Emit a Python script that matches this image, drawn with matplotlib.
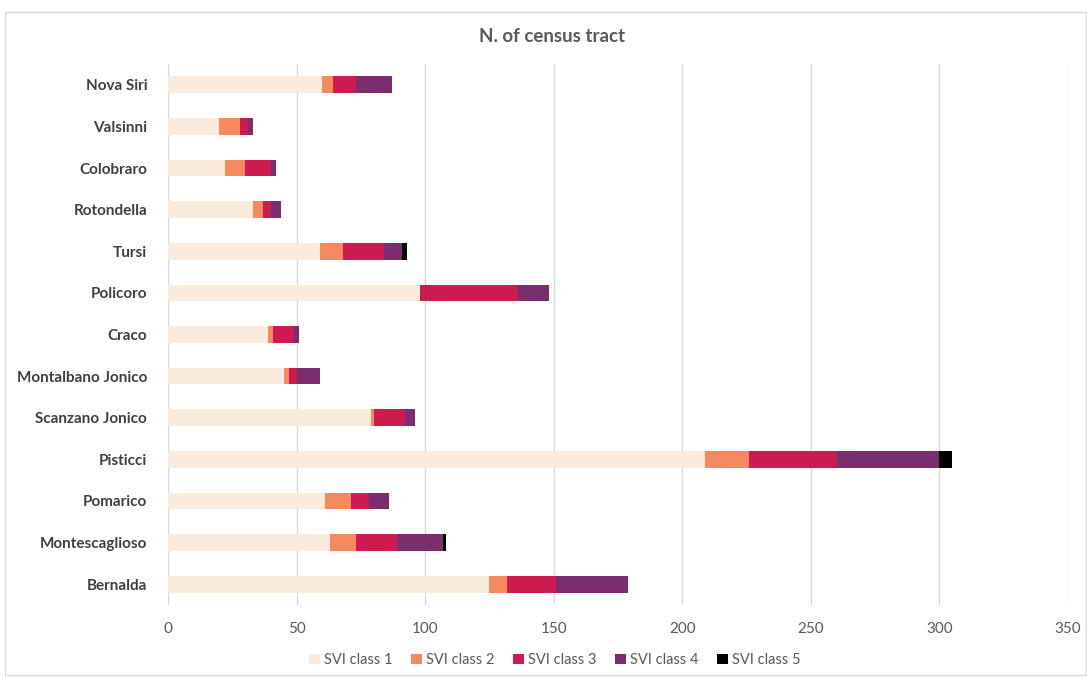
import matplotlib
matplotlib.use("Agg")
import matplotlib.pyplot as plt
from matplotlib.patches import Rectangle

plt.rcParams['font.family'] = ['Lato', 'DejaVu Sans']

categories = ["Nova Siri", "Valsinni", "Colobraro", "Rotondella", "Tursi", "Policoro",
              "Craco", "Montalbano Jonico", "Scanzano Jonico", "Pisticci", "Pomarico",
              "Montescaglioso", "Bernalda"]
svi1 = [60, 20, 22, 33, 59, 98, 39, 45, 79, 209, 61, 63, 125]
svi2 = [4, 8, 8, 4, 9, 0, 2, 2, 1, 17, 10, 10, 7]
svi3 = [9, 3, 10, 3, 16, 38, 8, 3, 12, 34, 7, 16, 19]
svi4 = [14, 2, 2, 4, 7, 12, 2, 9, 4, 40, 8, 18, 28]
svi5 = [0, 0, 0, 0, 2, 0, 0, 0, 0, 5, 0, 1, 0]
series_names = ["SVI class 1", "SVI class 2", "SVI class 3", "SVI class 4", "SVI class 5"]
xticks = [0, 50, 100, 150, 200, 250, 300, 350]

colors = ['#FBEBDD', '#F5895F', '#CC1B4F', '#7B2D6F', '#000000']

fig = plt.figure(figsize=(10.87, 6.77), dpi=100)
ax = fig.add_axes([168/1087, 1-605/677, 900/1087, (605-64)/677])

fig.patches.append(Rectangle((5/1087, 0.003), 1-6/1087, 1-12/677-0.003,
                             transform=fig.transFigure, fill=False,
                             edgecolor='#D9D9D9', linewidth=1.0))

y = list(range(len(categories)))
left = [0]*len(categories)
for vals, name, c in zip([svi1, svi2, svi3, svi4, svi5], series_names, colors):
    ax.barh(y, vals, left=left, height=0.4, color=c, label=name, zorder=3)
    left = [l+v for l, v in zip(left, vals)]

ax.set_ylim(len(categories)-0.5, -0.5)
ax.set_xlim(0, 350)
ax.set_xticks(xticks)
ax.set_yticks(y)
ax.set_yticklabels(categories, fontsize=11, fontweight='bold', color='#404040')
ax.tick_params(axis='x', labelsize=11, labelcolor='#595959', length=0, pad=12)
ax.tick_params(axis='y', length=0, pad=15)
ax.grid(axis='x', color='#D9D9D9', linewidth=1, zorder=0)
for s in ax.spines.values():
    s.set_visible(False)

fig.text(552/1087, 1-37/677, "N. of census tract", ha='center', va='center',
         fontsize=13.5, fontweight='bold', color='#595959')

leg = fig.legend(loc='center', bbox_to_anchor=(555/1087, 1-660/677), ncol=5,
                 frameon=False, fontsize=10.5, handlelength=0.7, handleheight=0.7,
                 handletextpad=0.3, columnspacing=1.3)
for t in leg.get_texts():
    t.set_color('#595959')

fig.savefig("out.png", dpi=100)
